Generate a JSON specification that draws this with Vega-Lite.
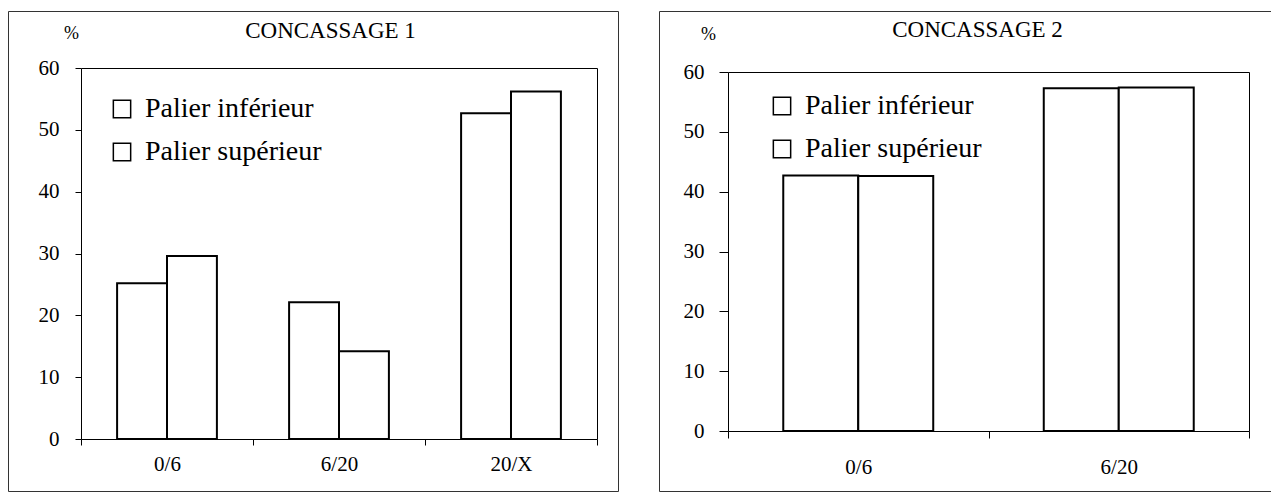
{
  "$schema": "https://vega.github.io/schema/vega-lite/v6.json",
  "padding": {"left": 7, "top": 10, "right": 0, "bottom": 0},
  "autosize": {"type": "pad"},
  "background": "white",
  "spacing": 39,
  "resolve": {"scale": {"color": "independent", "xOffset": "independent", "x": "independent", "y": "independent"}, "legend": {"color": "independent"}},
  "config": {
    "font": "Liberation Serif",
    "view": {"stroke": "#333333", "strokeWidth": 1},
    "axis": {
      "domainColor": "black",
      "tickColor": "black",
      "labelColor": "black",
      "labelFont": "Liberation Serif",
      "labelFontSize": 21,
      "grid": false,
      "titleFont": "Liberation Serif",
      "titleFontWeight": "normal",
      "titleColor": "black",
      "domainWidth": 1,
      "tickWidth": 1
    },
    "legend": {
      "symbolType": "square",
      "symbolSize": 300,
      "symbolStrokeColor": "black",
      "symbolStrokeWidth": 1.5,
      "symbolFillColor": "white",
      "labelFont": "Liberation Serif",
      "labelFontSize": 28,
      "labelColor": "black",
      "rowPadding": 15,
      "labelOffset": 9,
      "labelLimit": 400,
      "direction": "vertical"
    }
  },
  "datasets": {
    "c1": [
      {"fraction": "0/6", "series": "Palier inférieur", "pct": 25.2},
      {"fraction": "0/6", "series": "Palier supérieur", "pct": 29.6},
      {"fraction": "6/20", "series": "Palier inférieur", "pct": 22.1},
      {"fraction": "6/20", "series": "Palier supérieur", "pct": 14.2},
      {"fraction": "20/X", "series": "Palier inférieur", "pct": 52.7},
      {"fraction": "20/X", "series": "Palier supérieur", "pct": 56.2}
    ],
    "c2": [
      {"fraction": "0/6", "series": "Palier inférieur", "pct": 42.7},
      {"fraction": "0/6", "series": "Palier supérieur", "pct": 42.6},
      {"fraction": "6/20", "series": "Palier inférieur", "pct": 57.3},
      {"fraction": "6/20", "series": "Palier supérieur", "pct": 57.4}
    ]
  },
  "hconcat": [
    {
      "width": 610,
      "height": 480,
      "data": {"name": "c1"},
      "layer": [
        {
          "mark": {"type": "bar", "stroke": "black", "strokeWidth": 2},
          "encoding": {
            "x": {"field": "fraction", "type": "nominal", "sort": null,
              "scale": {"range": [73, 589], "paddingInner": 0, "paddingOuter": 0},
              "axis": {"orient": "bottom", "offset": -52, "title": null, "labelAngle": 0, "tickBand": "extent", "tickSize": 6, "labelPadding": 8, "labelFont": "Liberation Serif", "labelFontSize": 21}},
            "xOffset": {"field": "series", "type": "nominal", "sort": null, "scale": {"paddingInner": 0, "paddingOuter": 0.7235}},
            "y": {"field": "pct", "type": "quantitative", "stack": null,
              "scale": {"domain": [0, 60], "range": [428, 57], "nice": false},
              "axis": {"orient": "left", "offset": -73, "values": [0, 10, 20, 30, 40, 50, 60], "tickSize": 6, "labelPadding": 16, "labelFont": "Liberation Serif", "labelFontSize": 21, "title": "%", "titleFont": "Liberation Serif", "titleAngle": 0, "titleX": -10, "titleY": 22, "titleAlign": "center", "titleBaseline": "middle", "titleFontSize": 18}},
            "color": {"field": "series", "type": "nominal", "sort": null,
              "scale": {"range": ["white", "white"]},
              "legend": {"orient": "none", "legendX": 100, "legendY": 84, "title": null, "labelFont": "Liberation Serif", "labelFontSize": 28}}
          }
        },
        {
          "mark": {"type": "bar", "opacity": 0},
          "encoding": {
            "x": {"field": "fraction", "type": "nominal", "sort": null, "axis": {"orient": "top", "offset": -57, "labels": false, "ticks": false, "title": "CONCASSAGE 1", "titleFont": "Liberation Serif", "titleFontSize": 23, "titleX": 322, "titleY": -31, "titleAlign": "center", "titleBaseline": "alphabetic"}},
            "y": {"field": "pct", "type": "quantitative", "stack": null, "axis": {"orient": "right", "offset": -21, "labels": false, "ticks": false, "title": null}}
          }
        }
      ],
      "resolve": {"axis": {"x": "independent", "y": "independent"}}
    },
    {
      "width": 612,
      "height": 480,
      "data": {"name": "c2"},
      "layer": [
        {
          "mark": {"type": "bar", "stroke": "black", "strokeWidth": 2},
          "encoding": {
            "x": {"field": "fraction", "type": "nominal", "sort": null,
              "scale": {"range": [69, 590], "paddingInner": 0, "paddingOuter": 0},
              "axis": {"orient": "bottom", "offset": -60, "title": null, "labelAngle": 0, "tickBand": "extent", "tickSize": 7, "labelPadding": 18, "labelFont": "Liberation Serif", "labelFontSize": 21}},
            "xOffset": {"field": "series", "type": "nominal", "sort": null, "scale": {"paddingInner": 0, "paddingOuter": 0.737}},
            "y": {"field": "pct", "type": "quantitative", "stack": null,
              "scale": {"domain": [0, 60], "range": [420, 61], "nice": false},
              "axis": {"orient": "left", "offset": -69, "values": [0, 10, 20, 30, 40, 50, 60], "tickSize": 9, "labelPadding": 15, "labelFont": "Liberation Serif", "labelFontSize": 21, "title": "%", "titleFont": "Liberation Serif", "titleAngle": 0, "titleX": -20, "titleY": 23, "titleAlign": "center", "titleBaseline": "middle", "titleFontSize": 18}},
            "color": {"field": "series", "type": "nominal", "sort": null,
              "scale": {"range": ["white", "white"]},
              "legend": {"orient": "none", "legendX": 109, "legendY": 81, "title": null, "labelFont": "Liberation Serif", "labelFontSize": 28}}
          }
        },
        {
          "mark": {"type": "bar", "opacity": 0},
          "encoding": {
            "x": {"field": "fraction", "type": "nominal", "sort": null, "axis": {"orient": "top", "offset": -61, "labels": false, "ticks": false, "title": "CONCASSAGE 2", "titleFont": "Liberation Serif", "titleFontSize": 23, "titleX": 318, "titleY": -36, "titleAlign": "center", "titleBaseline": "alphabetic"}},
            "y": {"field": "pct", "type": "quantitative", "stack": null, "axis": {"orient": "right", "offset": -22, "labels": false, "ticks": false, "title": null}}
          }
        }
      ],
      "resolve": {"axis": {"x": "independent", "y": "independent"}}
    }
  ]
}
